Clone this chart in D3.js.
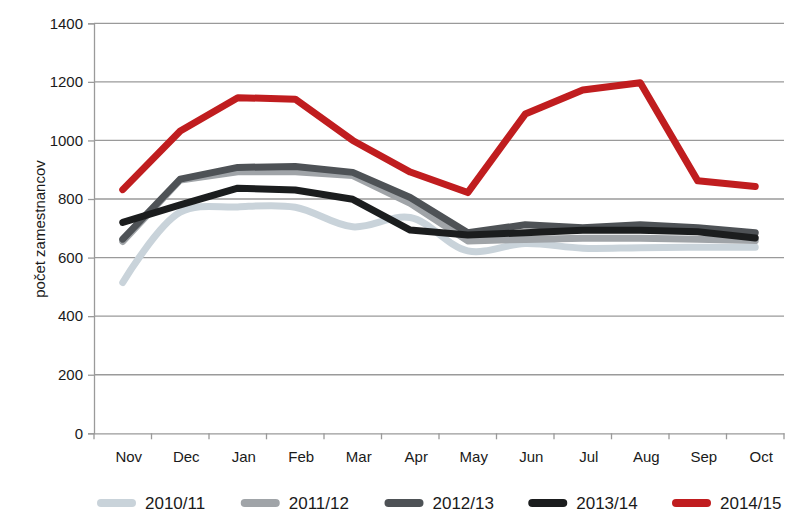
<!DOCTYPE html>
<html><head><meta charset="utf-8">
<script src="https://cdn.jsdelivr.net/npm/d3@7"></script>
<style>body{margin:0;background:#fff}svg{display:block}text{font-family:"Liberation Sans",Arial,sans-serif;fill:#1a1a1a}</style>
</head><body><svg id="c" width="789" height="513"></svg>
<script>
const months = ["Nov","Dec","Jan","Feb","Mar","Apr","May","Jun","Jul","Aug","Sep","Oct"];
const yTicks = [0,200,400,600,800,1000,1200,1400];
const seriesNames = ["2010/11","2011/12","2012/13","2013/14","2014/15"];
const s2010 = [515,755,773,772,705,737,623,648,632,634,635,635];
const s2011 = [655,865,893,893,880,785,657,662,666,666,663,658];
const s2012 = [663,868,908,911,891,805,685,712,702,712,702,685];
const s2013 = [720,780,837,831,799,694,677,685,693,693,688,667];
const s2014 = [832,1032,1146,1141,1000,892,822,1090,1172,1197,862,843];
const colors = ["#c9d3da","#a0a4a8","#4e5256","#1b1d1e","#c01d1f"];
const allSeries = [s2010,s2011,s2012,s2013,s2014];

const svg = d3.select("#c");
const m = {l:94, r:784, t:23.3, b:433.3};
const x = d3.scaleBand().domain(months).range([m.l,m.r]);
const y = d3.scaleLinear().domain([0,1400]).range([m.b,m.t]);

svg.append("g").selectAll("line").data(yTicks.filter(d=>d>0)).join("line")
  .attr("x1",m.l).attr("x2",m.r).attr("y1",d=>y(d)).attr("y2",d=>y(d))
  .attr("stroke","#9a9a9a").attr("stroke-width",1.3);

const ya = svg.append("g").attr("transform",`translate(${m.l},0)`)
  .call(d3.axisLeft(y).tickValues(yTicks).tickFormat(d3.format("d")).tickSize(6).tickPadding(5));
const xa = svg.append("g").attr("transform",`translate(0,${m.b})`)
  .call(d3.axisBottom(x).tickSize(0).tickPadding(18));
const bounds = d3.range(13).map(i=>m.l + i*x.step());
svg.append("g").selectAll("line").data(bounds).join("line")
  .attr("x1",d=>d).attr("x2",d=>d).attr("y1",m.b).attr("y2",m.b+6)
  .attr("stroke","#9a9a9a").attr("stroke-width",1.3);
[ya,xa].forEach(a=>{
  a.selectAll(".domain").attr("stroke","#9a9a9a").attr("stroke-width",1.3);
  a.selectAll(".tick line").attr("stroke","#9a9a9a").attr("stroke-width",1.3);
  a.selectAll("text").style("font-size","15px").attr("fill","#1a1a1a");
});
xa.selectAll(".tick text").attr("dx",6);

svg.append("text").attr("transform",`translate(45,229) rotate(-90)`)
  .attr("text-anchor","middle").style("font-size","15px").text("počet zamestnancov");

const cx = d => x(d)+x.bandwidth()/2;
allSeries.forEach((s,i)=>{
  const line = d3.line().x((d,j)=>cx(months[j])).y(d=>y(d))
    .curve(i===0 ? d3.curveCatmullRom.alpha(0.5) : d3.curveLinear);
  svg.append("path").datum(s).attr("d",line).attr("fill","none")
    .attr("stroke",colors[i]).attr("stroke-width",7)
    .attr("stroke-linecap","round").attr("stroke-linejoin","round");
});

const lg = svg.append("g");
seriesNames.forEach((n,i)=>{
  const x0 = 97 + i*143.75;
  lg.append("line").attr("x1",x0+4).attr("x2",x0+35).attr("y1",503).attr("y2",503)
    .attr("stroke",colors[i]).attr("stroke-width",8).attr("stroke-linecap","round");
  lg.append("text").attr("x",x0+48).attr("y",509).style("font-size","17px").text(n);
});
</script></body></html>
